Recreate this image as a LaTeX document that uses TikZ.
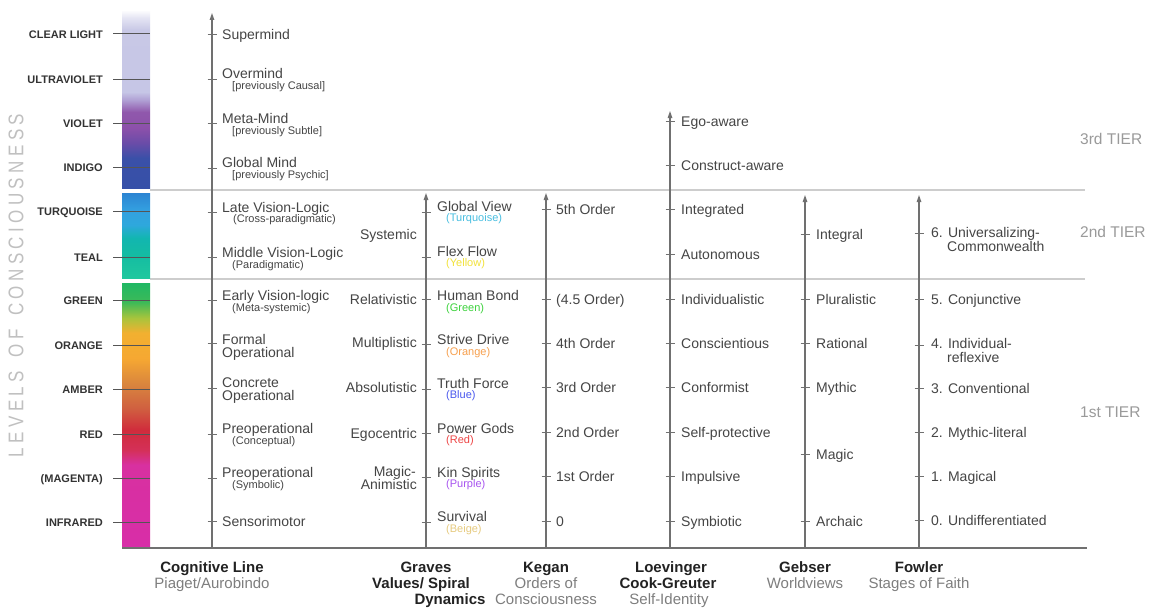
\documentclass[tikz,border=0pt]{standalone}
\usepackage{fontspec}
\setmainfont{Liberation Sans}
\usetikzlibrary{arrows.meta}

% text and line colours
\definecolor{txt}{HTML}{454545}
\definecolor{lvltxt}{HTML}{333333}
\definecolor{axisgray}{HTML}{707070}
\definecolor{lvltick}{HTML}{555555}
\definecolor{tiergray}{HTML}{CDCDCD}
\definecolor{tiertxt}{HTML}{9A9A9A}
\definecolor{headtxt}{HTML}{222222}
\definecolor{subhead}{HTML}{7E7E7E}
\definecolor{levelsgray}{HTML}{C0C0C0}
% spiral colours of the small captions
\definecolor{cTurq}{HTML}{48BEE0}
\definecolor{cYellow}{HTML}{F2E23A}
\definecolor{cGreen}{HTML}{3CD23C}
\definecolor{cOrange}{HTML}{F7A04E}
\definecolor{cBlue}{HTML}{4A58EE}
\definecolor{cRed}{HTML}{EE4646}
\definecolor{cPurple}{HTML}{A854F0}
\definecolor{cBeige}{HTML}{E6CA7E}

% colour band: upper block (clear light .. indigo)
\definecolor{uA}{HTML}{3650A8}
\definecolor{uB}{HTML}{3A50A8}
\definecolor{uC}{HTML}{6A4CA8}
\definecolor{uD}{HTML}{8C50AA}
\definecolor{uE}{HTML}{9058AC}
\definecolor{uF}{HTML}{B0A0D4}
\definecolor{uG}{HTML}{C6C6E6}
\definecolor{uH}{HTML}{C8C8E6}
\definecolor{uI}{HTML}{E4E4F3}
\definecolor{uJ}{HTML}{F8F8FC}
\pgfdeclareverticalshading{upperband}{100bp}{color(0bp)=(uA); color(25bp)=(uA);
  color(33.5bp)=(uB); color(37.8bp)=(uC); color(42bp)=(uD); color(46.6bp)=(uE);
  color(50bp)=(uF); color(52.3bp)=(uG); color(69.9bp)=(uH); color(73.3bp)=(uI);
  color(75bp)=(uJ); color(100bp)=(uJ)}
% middle block (turquoise, teal)
\definecolor{mA}{HTML}{20C89E}
\definecolor{mB}{HTML}{14BCA2}
\definecolor{mC}{HTML}{12B6B0}
\definecolor{mD}{HTML}{2EA8DC}
\definecolor{mE}{HTML}{33A0E0}
\definecolor{mF}{HTML}{2C84D2}
\pgfdeclareverticalshading{middleband}{100bp}{color(0bp)=(mA); color(25bp)=(mA);
  color(38.5bp)=(mB); color(48.5bp)=(mC); color(56.2bp)=(mD); color(65bp)=(mE);
  color(75bp)=(mF); color(100bp)=(mF)}
% lower block (green .. infrared)
\definecolor{lA}{HTML}{D82EA8}
\definecolor{lB}{HTML}{D830A0}
\definecolor{lC}{HTML}{D43058}
\definecolor{lD}{HTML}{D02C3C}
\definecolor{lE}{HTML}{D06040}
\definecolor{lF}{HTML}{D8843E}
\definecolor{lG}{HTML}{F6A832}
\definecolor{lH}{HTML}{F2B030}
\definecolor{lI}{HTML}{A8C43C}
\definecolor{lJ}{HTML}{3CBA58}
\definecolor{lK}{HTML}{20B864}
\pgfdeclareverticalshading{lowerband}{100bp}{color(0bp)=(lA); color(25bp)=(lA);
  color(40.7bp)=(lB); color(43.5bp)=(lC); color(47.3bp)=(lD); color(51.4bp)=(lE);
  color(55.8bp)=(lF); color(60.8bp)=(lG); color(65.6bp)=(lH); color(68.4bp)=(lI);
  color(71.4bp)=(lJ); color(75bp)=(lK); color(100bp)=(lK)}

\newcommand\lsk{\kern4.4pt}

\begin{document}
\begin{tikzpicture}[x=1pt,y=-1pt,
  lbl/.style={anchor=mid west, yshift=-2.5pt, inner sep=0pt, text=txt, font=\fontsize{14}{16}\selectfont},
  sublbl/.style={anchor=mid west, yshift=-2pt, inner sep=0pt, text=txt, font=\fontsize{11}{13}\selectfont},
  leftlbl/.style={anchor=mid east, yshift=-2.5pt, inner sep=0pt, text=txt, font=\fontsize{14}{16}\selectfont},
  lvl/.style={anchor=mid east, yshift=-2pt, inner sep=0pt, text=lvltxt, font=\bfseries\fontsize{11}{13}\selectfont},
  axisline/.style={draw=axisgray, line width=1.2pt, -{Triangle[length=7pt,width=4.5pt]}},
  tickmark/.style={draw=axisgray, line width=0.9pt},
  lvltickmark/.style={draw=lvltick, line width=1pt},
  tierline/.style={draw=tiergray, line width=1.4pt},
  tierlbl/.style={anchor=mid west, yshift=-2.5pt, inner sep=0pt, text=tiertxt, font=\fontsize{15.5}{17}\selectfont},
  head/.style={anchor=mid, yshift=-2.5pt, inner sep=0pt, text=headtxt, font=\bfseries\fontsize{15}{17}\selectfont},
  headsub/.style={anchor=mid, yshift=-2.5pt, inner sep=0pt, text=subhead, font=\fontsize{15}{17}\selectfont}]

\fill[white] (0,0) rectangle (1153,610);
\useasboundingbox (0,0) rectangle (1153,610);

% tier boundaries
\coordinate (t3a) at (150,190); \coordinate (t3b) at (1085,190);
\coordinate (t2a) at (150,279); \coordinate (t2b) at (1085,279);
\draw[tierline] (t3a) -- (t3b);
\draw[tierline] (t2a) -- (t2b);

% colour band
\shade[shading=upperband] (122,12) rectangle (150,188);
\shade[shading=middleband] (122,193) rectangle (150,278);
\shade[shading=lowerband] (122,283) rectangle (150,548);

% level names with their marks across the band
\foreach \y/\name in {34/CLEAR LIGHT, 79/ULTRAVIOLET, 123/VIOLET, 167/INDIGO,
    211/TURQUOISE, 257/TEAL, 300/GREEN, 345/ORANGE, 389/AMBER, 434/RED,
    478/(MAGENTA), 522/INFRARED} {
  \node[lvl] (lvl-\y) at (103,\y) {\name};
  \draw[lvltickmark] (113,\y) -- (150,\y);
}

\node[rotate=90, inner sep=0pt, text=levelsgray] (levels) at (16,285.5)
  {\scalebox{1}[1.25]{\fontsize{17}{17}\selectfont L\lsk E\lsk V\lsk E\lsk L\lsk S\lsk\ \lsk O\lsk F\lsk\ \lsk C\lsk O\lsk N\lsk S\lsk C\lsk I\lsk O\lsk U\lsk S\lsk N\lsk E\lsk S\lsk S}};

% base line
\coordinate (base-l) at (122,548); \coordinate (base-r) at (1087,548);
\draw[draw=axisgray, line width=2.2pt] (base-l) -- (base-r);

% developmental axes
\coordinate (cog-b) at (212,548);  \coordinate (cog-t) at (212,13);
\coordinate (grv-b) at (426,548);  \coordinate (grv-t) at (426,193);
\coordinate (keg-b) at (546,548);  \coordinate (keg-t) at (546,193);
\coordinate (loe-b) at (670,548);  \coordinate (loe-t) at (670,111);
\coordinate (geb-b) at (805,548);  \coordinate (geb-t) at (805,195);
\coordinate (fow-b) at (919,548);  \coordinate (fow-t) at (919,195);
\foreach \a in {cog,grv,keg,loe,geb,fow} \draw[axisline] (\a-b) -- (\a-t);

% stage marks on each axis
\foreach \y in {34,79,123,168,212,257,300,343,388,434,478,521}
  \draw[tickmark] (207.5,\y) -- (216.5,\y);
\foreach \y in {212,257,299,344,389,433,477,522}
  \draw[tickmark] (421.5,\y) -- (430.5,\y);
\foreach \y in {209,299,343,387,432,476,521}
  \draw[tickmark] (541.5,\y) -- (550.5,\y);
\foreach \y in {121,165,209,254,299,343,387,432,476,521}
  \draw[tickmark] (665.5,\y) -- (674.5,\y);
\foreach \y in {234,299,343,387,454,521}
  \draw[tickmark] (800.5,\y) -- (809.5,\y);
\foreach \y in {233,299,345,388,432,476,520}
  \draw[tickmark] (914.5,\y) -- (923.5,\y);

% cognitive line
\node[lbl] (cog1) at (222,34) {Supermind};
\node[lbl] (cog2) at (222,73) {Overmind};
\node[sublbl] (cog2s) at (232,85) {[previously Causal]};
\node[lbl] (cog3) at (222,118) {Meta-Mind};
\node[sublbl] (cog3s) at (232,130) {[previously Subtle]};
\node[lbl] (cog4) at (222,162) {Global Mind};
\node[sublbl] (cog4s) at (232,174) {[previously Psychic]};
\node[lbl] (cog5) at (222,207) {Late Vision-Logic};
\node[sublbl] (cog5s) at (233,218) {(Cross-paradigmatic)};
\node[lbl] (cog6) at (222,252) {Middle Vision-Logic};
\node[sublbl] (cog6s) at (232,264) {(Paradigmatic)};
\node[lbl] (cog7) at (222,295) {Early Vision-logic};
\node[sublbl] (cog7s) at (232,307) {(Meta-systemic)};
\node[lbl] (cog8) at (222,339) {Formal};
\node[lbl] (cog8b) at (222,352) {Operational};
\node[lbl] (cog9) at (222,382) {Concrete};
\node[lbl] (cog9b) at (222,395) {Operational};
\node[lbl] (cog10) at (222,428) {Preoperational};
\node[sublbl] (cog10s) at (232,440) {(Conceptual)};
\node[lbl] (cog11) at (222,472) {Preoperational};
\node[sublbl] (cog11s) at (232,484) {(Symbolic)};
\node[lbl] (cog12) at (222,521) {Sensorimotor};

% Graves: value systems
\node[leftlbl] (gv1) at (417,234) {Systemic};
\node[leftlbl] (gv2) at (417,299) {Relativistic};
\node[leftlbl] (gv3) at (417,342) {Multiplistic};
\node[leftlbl] (gv4) at (417,387) {Absolutistic};
\node[leftlbl] (gv5) at (417,433) {Egocentric};
\node[leftlbl] (gv6) at (416,471) {Magic-};
\node[leftlbl] (gv6b) at (417,484) {Animistic};

% Spiral Dynamics memes
\node[lbl] (sd1) at (437,206) {Global View};
\node[sublbl, text=cTurq] (sd1s) at (446,217) {(Turquoise)};
\node[lbl] (sd2) at (437,251) {Flex Flow};
\node[sublbl, text=cYellow] (sd2s) at (446,262) {(Yellow)};
\node[lbl] (sd3) at (437,295) {Human Bond};
\node[sublbl, text=cGreen] (sd3s) at (446,307) {(Green)};
\node[lbl] (sd4) at (437,339) {Strive Drive};
\node[sublbl, text=cOrange] (sd4s) at (446,351) {(Orange)};
\node[lbl] (sd5) at (437,383) {Truth Force};
\node[sublbl, text=cBlue] (sd5s) at (446,394) {(Blue)};
\node[lbl] (sd6) at (437,428) {Power Gods};
\node[sublbl, text=cRed] (sd6s) at (446,439) {(Red)};
\node[lbl] (sd7) at (437,472) {Kin Spirits};
\node[sublbl, text=cPurple] (sd7s) at (446,483) {(Purple)};
\node[lbl] (sd8) at (437,516) {Survival};
\node[sublbl, text=cBeige] (sd8s) at (446,528) {(Beige)};

% Kegan
\node[lbl] (kg1) at (556,209) {5th Order};
\node[lbl] (kg2) at (556,299) {(4.5 Order)};
\node[lbl] (kg3) at (556,343) {4th Order};
\node[lbl] (kg4) at (556,387) {3rd Order};
\node[lbl] (kg5) at (556,432) {2nd Order};
\node[lbl] (kg6) at (556,476) {1st Order};
\node[lbl] (kg7) at (556,521) {0};

% Loevinger / Cook-Greuter
\node[lbl] (lv1) at (681,121) {Ego-aware};
\node[lbl] (lv2) at (681,165) {Construct-aware};
\node[lbl] (lv3) at (681,209) {Integrated};
\node[lbl] (lv4) at (681,254) {Autonomous};
\node[lbl] (lv5) at (681,299) {Individualistic};
\node[lbl] (lv6) at (681,343) {Conscientious};
\node[lbl] (lv7) at (681,387) {Conformist};
\node[lbl] (lv8) at (681,432) {Self-protective};
\node[lbl] (lv9) at (681,476) {Impulsive};
\node[lbl] (lv10) at (681,521) {Symbiotic};

% Gebser
\node[lbl] (gb1) at (816,234) {Integral};
\node[lbl] (gb2) at (816,299) {Pluralistic};
\node[lbl] (gb3) at (816,343) {Rational};
\node[lbl] (gb4) at (816,387) {Mythic};
\node[lbl] (gb5) at (816,454) {Magic};
\node[lbl] (gb6) at (816,521) {Archaic};

% Fowler
\node[lbl] (fw1) at (931,232) {6. Universalizing-};
\node[lbl] (fw1b) at (947,246) {Commonwealth};
\node[lbl] (fw2) at (931,299) {5. Conjunctive};
\node[lbl] (fw3) at (931,343) {4. Individual-};
\node[lbl] (fw3b) at (947,357) {reflexive};
\node[lbl] (fw4) at (931,388) {3. Conventional};
\node[lbl] (fw5) at (931,432) {2. Mythic-literal};
\node[lbl] (fw6) at (931,476) {1. Magical};
\node[lbl] (fw7) at (931,520) {0. Undifferentiated};

% tiers
\node[tierlbl] (tier3) at (1080,139) {3rd TIER};
\node[tierlbl] (tier2) at (1080,232) {2nd TIER};
\node[tierlbl] (tier1) at (1080,412) {1st TIER};

% column headings
\node[head] (h-cog) at (212,567) {Cognitive Line};
\node[headsub] (h-cog2) at (212,583) {Piaget/Aurobindo};
\node[head] (h-grv) at (426,567) {Graves};
\node[head] (h-grv2) at (421,583) {Values/ Spiral};
\node[head] (h-grv3) at (450,599) {Dynamics};
\node[head] (h-keg) at (546,567) {Kegan};
\node[headsub] (h-keg2) at (546,583) {Orders of};
\node[headsub] (h-keg3) at (546,599) {Consciousness};
\node[head] (h-loe) at (671,567) {Loevinger};
\node[head] (h-loe2) at (668,583) {Cook-Greuter};
\node[headsub] (h-loe3) at (669,599) {Self-Identity};
\node[head] (h-geb) at (805,567) {Gebser};
\node[headsub] (h-geb2) at (805,583) {Worldviews};
\node[head] (h-fow) at (919,567) {Fowler};
\node[headsub] (h-fow2) at (919,583) {Stages of Faith};

\end{tikzpicture}
\end{document}
